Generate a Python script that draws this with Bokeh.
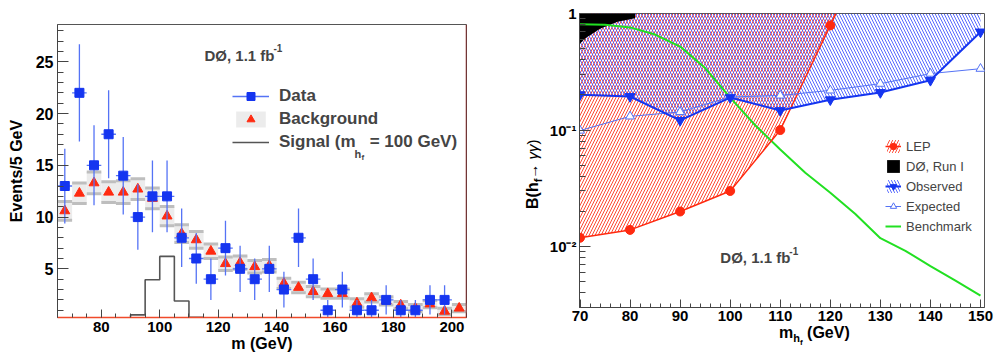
import numpy as np
from bokeh.plotting import figure
from bokeh.models import (Range1d, FixedTicker, Legend, LegendItem, Label, Span,
                          CustomJSTickFormatter, Div)
from bokeh.layouts import row, column
from bokeh.embed import file_html
from bokeh.resources import INLINE

FONT = "Liberation Sans"

# ---------------- left panel data ----------------
bin_centers = [67.5, 72.5, 77.5, 82.5, 87.5, 92.5, 97.5, 102.5, 107.5, 112.5,
               117.5, 122.5, 127.5, 132.5, 137.5, 142.5, 147.5, 152.5, 157.5,
               162.5, 167.5, 172.5, 177.5, 182.5, 187.5, 192.5, 197.5, 202.5]
data_centers = bin_centers[:27]
data_counts = [13, 22, 15, 18, 14, 10, 12, 12, 8, 6, 4, 7, 5, 4, 5, 3, 8, 4, 1,
               3, 1, 1, 2, 1, 1, 2, 2]
data_errors = [3.61, 4.69, 3.87, 4.24, 3.74, 3.16, 3.46, 3.46, 2.83, 2.45, 2.0,
               2.65, 2.24, 2.0, 2.24, 1.73, 2.83, 2.0, 1.0, 1.73, 1.0, 1.0, 1.41,
               1.0, 1.0, 1.41, 1.41]
bkg_values = [10.6, 12.3, 13.3, 12.4, 12.4, 12.7, 11.8, 10.1, 8.4, 7.8, 6.7, 5.5,
              5.6, 5.2, 5.3, 3.6, 3.2, 2.8, 2.6, 2.6, 1.7, 2.2, 1.9, 1.5, 1.2,
              1.6, 0.9, 1.2]
bkg_errors = [0.9, 1.0, 1.05, 1.0, 1.1, 1.0, 1.0, 0.93, 0.85, 0.8, 0.7, 0.65,
              0.65, 0.6, 0.6, 0.5, 0.5, 0.5, 0.45, 0.45, 0.4, 0.4, 0.4, 0.35,
              0.35, 0.35, 0.3, 0.35]
signal_edges = [90, 95, 100, 105, 110, 115]
signal_values = [0.55, 3.95, 6.2, 1.9, 0.32]
bin_half = 2.5

# ---------------- right panel data ----------------
mass = [70, 80, 90, 100, 110, 120, 130, 140, 150]
lep_mass = [70, 80, 90, 100, 110, 120]
lep_limit = [0.0119, 0.0139, 0.020, 0.030, 0.100, 0.79]
runI_mass = [70, 71, 74, 77.5, 81]
runI_limit = [0.55, 0.61, 0.74, 0.85, 0.91]
obs_limit = [0.201, 0.194, 0.121, 0.19, 0.147, 0.182, 0.21, 0.267, 0.695]
exp_limit = [0.099, 0.131, 0.143, 0.192, 0.198, 0.219, 0.25, 0.305, 0.336]
bench_mass = [70, 75, 80, 85, 90, 95, 100, 105, 110, 115, 120, 125, 130, 135,
              140, 145, 150]
bench_br = [0.81, 0.80, 0.76, 0.66, 0.52, 0.34, 0.19, 0.11, 0.068, 0.043, 0.029,
            0.019, 0.0118, 0.0092, 0.0068, 0.0051, 0.0038]

RED = "#ff2a10"
BLUE = "#1535f0"
LBLUE = "#5573f5"
GREEN = "#22e022"
AXC = "#444444"


def style_axes(p, size="15px"):
    for ax in p.axis:
        ax.major_label_text_font = FONT
        ax.major_label_text_font_style = "bold"
        ax.major_label_text_font_size = size
        ax.major_label_text_color = "black"
        ax.axis_line_color = AXC
        ax.major_tick_line_color = AXC
        ax.minor_tick_line_color = AXC
        ax.major_tick_out = 0
        ax.minor_tick_out = 0
        ax.major_label_standoff = 4
        ax.axis_label_text_font = FONT
        ax.axis_label_text_font_style = "bold"
        ax.axis_label_text_font_size = "16px"
        ax.axis_label_text_color = "black"
    for ax in p.xaxis:
        ax.major_tick_in = 8
        ax.minor_tick_in = 4
    for ax in p.yaxis:
        ax.major_tick_in = 11
        ax.minor_tick_in = 6


# ================= LEFT =================
# page geometry of the reference frame: x 57..466, y 24.3..316.7
LX0, LX1, LY0, LY1 = 65, 205, 0.3, 28.6
left = figure(width=495, height=360, x_range=Range1d(LX0, LX1),
              y_range=Range1d(LY0, LY1), output_backend="svg",
              toolbar_location=None, min_border_left=57, min_border_right=29,
              min_border_top=24, min_border_bottom=43)
left.grid.visible = False
left.outline_line_color = "#555555"
left.background_fill_color = "white"
left.border_fill_color = "white"


def lx(px):
    return LX0 + (px - 57) / (466 - 57) * (LX1 - LX0)


def ly(py):
    return LY1 - (py - 24.3) / (316.7 - 24.3) * (LY1 - LY0)


bc = np.array(bin_centers)
bv = np.array(bkg_values)
be = np.array(bkg_errors)
band = left.quad(left=bc - bin_half, right=bc + bin_half, bottom=bv - be,
                 top=bv + be, fill_color="#ececec", line_color=None)
left.segment(x0=bc - bin_half, x1=bc + bin_half, y0=bv + be, y1=bv + be,
             line_color="#bebebe", line_width=3)
left.segment(x0=bc - bin_half, x1=bc + bin_half, y0=bv - be, y1=bv - be,
             line_color="#bebebe", line_width=3)

# signal histogram outline
xs_h = [signal_edges[0]]
ys_h = [0.0]
for i in range(len(signal_values)):
    xs_h += [signal_edges[i], signal_edges[i + 1]]
    ys_h += [signal_values[i], signal_values[i]]
xs_h += [signal_edges[-1]]
ys_h += [0.0]
sig = left.line(xs_h, ys_h, line_color="#555555", line_width=1.6)

red_line = left.line(x=[], y=[], line_color=RED, line_width=1.5)
tri = left.scatter(bin_centers, bkg_values, marker="triangle", size=10,
                   fill_color=RED, line_color=RED)

dc = np.array(data_centers)
dv = np.array(data_counts)
de = np.array(data_errors)
errv = left.segment(x0=dc, x1=dc, y0=dv - de, y1=dv + de, line_color=LBLUE,
                    line_width=1.3)
left.segment(x0=dc - bin_half, x1=dc + bin_half, y0=dv, y1=dv,
             line_color=LBLUE, line_width=1.3)
sq = left.scatter(data_centers, data_counts, marker="square", size=9,
                  fill_color=BLUE, line_color=BLUE)

left.xaxis.ticker = FixedTicker(ticks=list(range(80, 201, 20)),
                                minor_ticks=list(range(65, 206, 5)))
left.yaxis.ticker = FixedTicker(ticks=[5, 10, 15, 20, 25],
                                minor_ticks=list(range(1, 29)))
left.xaxis.axis_label = "m (GeV)"
left.yaxis.axis_label = "Events/5 GeV"
style_axes(left, "15px")
left.yaxis.major_label_text_font_size = "16px"
left.xaxis.axis_label_standoff = 0
left.yaxis.axis_label_standoff = 8
left.xaxis.axis_line_color = "#f04a2a"
left.xaxis.axis_line_width = 1.5
left.add_layout(Span(location=LX1, dimension="height", line_color="#8b1a1a",
                     line_width=1.5))

NB = "\u00a0"
leg_left = Legend(items=[
    LegendItem(label="Data", renderers=[errv, sq]),
    LegendItem(label="Background", renderers=[band, red_line, tri]),
    LegendItem(label="Signal (m" + NB * 3 + "= 100 GeV)", renderers=[sig]),
], location=(175, 164), label_text_font=FONT, label_text_font_style="bold",
    label_text_font_size="17px", glyph_width=37, glyph_height=20,
    label_height=23, spacing=0, padding=0, margin=0, border_line_color=None,
    background_fill_alpha=0, label_standoff=10)
left.add_layout(leg_left)

left.add_layout(Label(x=lx(354), y=ly(154), text="h", text_font=FONT,
                      text_font_style="bold", text_font_size="11px",
                      text_baseline="alphabetic"))
left.add_layout(Label(x=lx(361), y=ly(157.5), text="f", text_font=FONT,
                      text_font_style="bold", text_font_size="8px",
                      text_baseline="alphabetic"))
left.add_layout(Label(x=lx(204), y=ly(55), text="DØ, 1.1 fb", text_font=FONT,
                      text_font_style="bold", text_font_size="15px",
                      text_baseline="alphabetic"))
left.add_layout(Label(x=lx(273), y=ly(48), text="-1", text_font=FONT,
                      text_font_style="bold", text_font_size="10px",
                      text_baseline="alphabetic"))

# ================= RIGHT =================
# page geometry of the reference frame: x 579.3..984, y 13.3..306.7
RX0, RX1, RY0, RY1 = 69.9, 150.8, 0.003, 1.0
right = figure(width=450, height=326, x_range=Range1d(RX0, RX1),
               y_range=Range1d(RY0, RY1), y_axis_type="log",
               output_backend="svg", toolbar_location=None,
               min_border_left=34, min_border_right=11, min_border_top=13,
               min_border_bottom=19)
right.grid.visible = False
right.outline_line_color = "#555555"
right.background_fill_color = "white"
right.border_fill_color = "white"


def rx(px):
    return RX0 + (px - 579.3) / (984 - 579.3) * (RX1 - RX0)


def ry(py):
    return 10 ** (-(py - 13.3) / (306.7 - 13.3) * np.log10(RY1 / RY0))


# LEP excluded region, extended to B = 1 along the last segment (log-linear)
slope = (np.log10(lep_limit[-1]) - np.log10(lep_limit[-2])) / (lep_mass[-1] - lep_mass[-2])
lep_top_mass = lep_mass[-1] + (0 - np.log10(lep_limit[-1])) / slope
lep_x = list(lep_mass) + [lep_top_mass]
lep_y = list(lep_limit) + [1.0]

lep_area = right.varea(x=lep_x, y1=lep_y, y2=[1.0] * len(lep_x),
                       fill_color=None, hatch_pattern="/", hatch_color=RED,
                       hatch_alpha=0.85, hatch_scale=6, hatch_weight=1)
obs_area = right.varea(x=mass, y1=obs_limit, y2=[1.0] * len(mass),
                       fill_color=None, hatch_pattern="\\",
                       hatch_color="#3a50ff", hatch_alpha=0.85, hatch_scale=6,
                       hatch_weight=1)
runI = right.varea(x=runI_mass, y1=runI_limit, y2=[1.0] * len(runI_mass),
                   fill_color="black")

bench = right.line(bench_mass, bench_br, line_color=GREEN, line_width=2)
lep_line = right.line(lep_x, lep_y, line_color=RED, line_width=1.5)
lep_pts = right.scatter(lep_mass, lep_limit, marker="circle", size=9,
                        fill_color=RED, line_color=RED)
exp_line = right.line(mass, exp_limit, line_color=LBLUE, line_width=1)
exp_pts = right.scatter(mass, exp_limit, marker="triangle", size=9,
                        fill_color="white", line_color=LBLUE, line_width=1)
obs_line = right.line(mass, obs_limit, line_color=BLUE, line_width=2)
obs_pts = right.scatter(mass, obs_limit, marker="inverted_triangle", size=10,
                        fill_color=BLUE, line_color=BLUE)

right.xaxis.ticker = FixedTicker(ticks=list(range(70, 151, 10)),
                                 minor_ticks=list(range(70, 151, 2)))
minor_log = [m * d for d in (0.001, 0.01, 0.1) for m in range(2, 10)]
right.yaxis.ticker = FixedTicker(ticks=[0.01, 0.1, 1.0], minor_ticks=minor_log)
right.yaxis.formatter = CustomJSTickFormatter(code="""
const e = Math.round(Math.log10(tick));
if (e === 0) { return "1"; }
const sup = {"-": "\u207b", "0": "\u2070", "1": "\u00b9", "2": "\u00b2", "3": "\u00b3"};
return "10" + String(e).split("").map(c => sup[c]).join("");
""")
style_axes(right, "15px")
right.yaxis.major_label_standoff = 3
right.xaxis.major_label_standoff = 3

leg_right = Legend(items=[
    LegendItem(label="LEP", renderers=[lep_area, lep_line, lep_pts]),
    LegendItem(label="DØ, Run I", renderers=[runI]),
    LegendItem(label="Observed", renderers=[obs_area, obs_line, obs_pts]),
    LegendItem(label="Expected", renderers=[exp_line, exp_pts]),
    LegendItem(label="Benchmark", renderers=[bench]),
], location=(306, 71), label_text_font=FONT, label_text_font_size="13px",
    glyph_width=16, glyph_height=16, label_height=20, spacing=0, padding=0,
    margin=0, border_line_color=None, background_fill_alpha=0,
    label_standoff=5)
right.add_layout(leg_right)

right.add_layout(Label(x=rx(720), y=ry(257), text="DØ, 1.1 fb", text_font=FONT,
                       text_font_style="bold", text_font_size="15px",
                       text_baseline="alphabetic"))
right.add_layout(Label(x=rx(789), y=ry(250), text="-1", text_font=FONT,
                       text_font_style="bold", text_font_size="10px",
                       text_baseline="alphabetic"))

# axis titles with sub-subscripts, as HTML text beside / below the plot
ytitle = Div(width=50, height=326, margin=0, text=(
    '<div style="margin-left:30px; margin-top:209px; transform-origin:0 0; '
    'transform:rotate(-90deg); white-space:nowrap; font-family:\'Liberation Sans\'; '
    'font-size:16px; line-height:16px; color:black;">'
    '<b>B(h<sub style="font-size:11px">f</sub></b>'
    '<span style="font-size:15px">&#8594;&nbsp;<i>&gamma;&gamma;</i>)</span></div>'))
xtitle = Div(width=500, height=34, margin=0, text=(
    '<div style="margin-left:284px; margin-top:-3px; white-space:nowrap; '
    'font-family:\'Liberation Sans\'; font-weight:bold; font-size:16px; '
    'line-height:16px; color:black;">m<sub style="font-size:11px">h'
    '<sub style="font-size:8px">f</sub></sub>&nbsp;(GeV)</div>'))

layout = row(left, column(row(ytitle, right), xtitle))
open("out.html", "w").write(file_html(layout, INLINE))
